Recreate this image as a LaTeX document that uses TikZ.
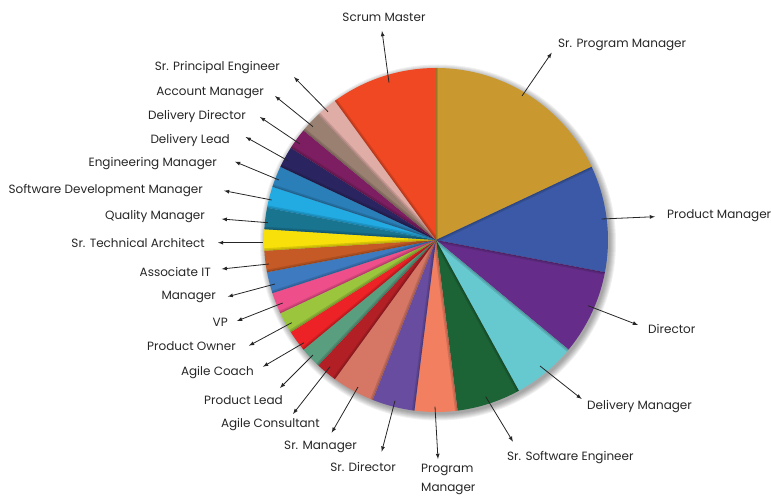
\documentclass[tikz,border=0pt]{standalone}
\usepackage{fontspec}
\setmainfont{Poppins}
\usetikzlibrary{arrows.meta}
\definecolor{cGold}{HTML}{C9992F}
\definecolor{cPM}{HTML}{3B59A6}
\definecolor{cDir}{HTML}{652D89}
\definecolor{cDM}{HTML}{67C9D0}
\definecolor{cSSE}{HTML}{1C6336}
\definecolor{cProg}{HTML}{F37F61}
\definecolor{cSD}{HTML}{684CA0}
\definecolor{cSM}{HTML}{D67766}
\definecolor{cAC}{HTML}{B21F25}
\definecolor{cPL}{HTML}{5A9E80}
\definecolor{cCoach}{HTML}{EC2227}
\definecolor{cPO}{HTML}{9BC53C}
\definecolor{cVP}{HTML}{EE4F8A}
\definecolor{cMgr}{HTML}{3E7AC0}
\definecolor{cAIT}{HTML}{C55A26}
\definecolor{cSTA}{HTML}{F8E10A}
\definecolor{cQM}{HTML}{197490}
\definecolor{cSDM}{HTML}{22ABE2}
\definecolor{cEM}{HTML}{2A7FB8}
\definecolor{cDL}{HTML}{2A2560}
\definecolor{cDD}{HTML}{7E1E62}
\definecolor{cAM}{HTML}{9A8070}
\definecolor{cSPE}{HTML}{E0ACA6}
\definecolor{cScrum}{HTML}{EF4823}

\begin{document}
\begin{tikzpicture}
[x=1pt, y=1pt,
 sliceShadow/.style={line width=5pt, black, opacity=0.12},
 lineDecorate/.style={-latex, line width=0.8pt, black!85},
 labelDecorate/.style={font=\fontsize{12}{19}\selectfont, text=black!85, inner sep=0pt, align=left}]

\useasboundingbox (-436,-260) rectangle (335,240);
\def\R{172}

 % soft shadow under the pie
 \foreach \k in {1,...,7}
 {
          \fill[black, opacity=0.06] (2,-2.5) circle ({\R-1+\k});
 }

 % slices, one unit = 7.2 degrees
 \foreach \a/\b/\col in {0/9/cGold, 9/14/cPM, 14/18/cDir, 18/21/cDM, 21/24/cSSE, 24/26/cProg,
   26/28/cSD, 28/30/cSM, 30/31/cAC, 31/32/cPL, 32/33/cCoach, 33/34/cPO, 34/35/cVP, 35/36/cMgr,
   36/37/cAIT, 37/38/cSTA, 38/39/cQM, 39/40/cSDM, 40/41/cEM, 41/42/cDL, 42/43/cDD, 43/44/cAM,
   44/45/cSPE, 45/50/cScrum}
 {
          \fill[\col] (0,0) -- ({90-7.2*\a}:\R) arc[start angle={90-7.2*\a}, end angle={90-7.2*\b}, radius=\R] -- cycle;
          \begin{scope}
            \clip (0,0) -- ({90-7.2*\a}:\R) arc[start angle={90-7.2*\a}, end angle={90-7.2*\b}, radius=\R] -- cycle;
            \draw[sliceShadow] (0,0) -- ({90-7.2*\a}:\R);
            \draw[sliceShadow, line width=2pt] (0,0) -- ({90-7.2*\a}:\R);
          \end{scope}
 }

 % labels and arrows
 \foreach \i/\tx/\ty/\hx/\hy/\px/\py/\anc/\txt in {
   1/86/144/115.7/187.3/122/195/west/Sr. Program Manager,
   2/165.7/21/219/23.3/231/24/west/Product Manager,
   3/152/-65.7/202/-85/212/-89/west/Director,
   4/104/-126/145.7/-159/151/-167/west/Delivery Manager,
   5/49.7/-156.7/77/-201.7/71/-218/west/Sr. Software Engineer,
   6/-1/-166.7/2/-219/-15/-224/north west/{Program\\Manager},
   7/-41/-160.7/-54.3/-211.7/-40/-227/east/Sr. Director,
   8/-78/-147/-104.3/-192.7/-79/-207/east/Sr. Manager,
   9/-106/-126.7/-143/-174/-116/-185/east/Agile Consultant,
   10/-123/-115/-156/-148/-153/-160/east/Product Lead,
   11/-132/-102.7/-173/-126.7/-182/-133/east/Agile Coach,
   12/-144.3/-82.7/-187/-105.7/-200/-106/east/Product Owner,
   13/-153.3/-63/-199/-81/-208/-82/east/VP,
   14/-161/-44/-208.3/-56.7/-220/-57/east/Manager,
   15/-167/-24/-214.3/-29/-225/-32/east/Associate IT,
   16/-173/-2.7/-218/-2.7/-231/-3/east/Sr. Technical Architect,
   17/-168/17.3/-214.3/21/-231/23/east/Quality Manager,
   18/-164.3/40/-212/49.3/-233/49/east/Software Development Manager,
   19/-157/60/-201/78.3/-219/76/east/Engineering Manager,
   20/-148/79.3/-190.3/103/-206/100/east/Delivery Lead,
   21/-136/96/-176/123/-190/124/east/Delivery Director,
   22/-123/113.3/-161/144/-172/147/east/Account Manager,
   23/-108/128.3/-142/163/-156/172/east/Sr. Principal Engineer,
   24/-47/157.3/-54/209/-52/223/center/Scrum Master}
 {
          \coordinate (T\i) at (\tx,\ty);
          \coordinate (H\i) at (\hx,\hy);
          \node (L\i) at (\px,\py) [labelDecorate, anchor=\anc] {\txt};
          \draw[lineDecorate] (T\i) -- (H\i);
 }
\end{tikzpicture}
\end{document}
